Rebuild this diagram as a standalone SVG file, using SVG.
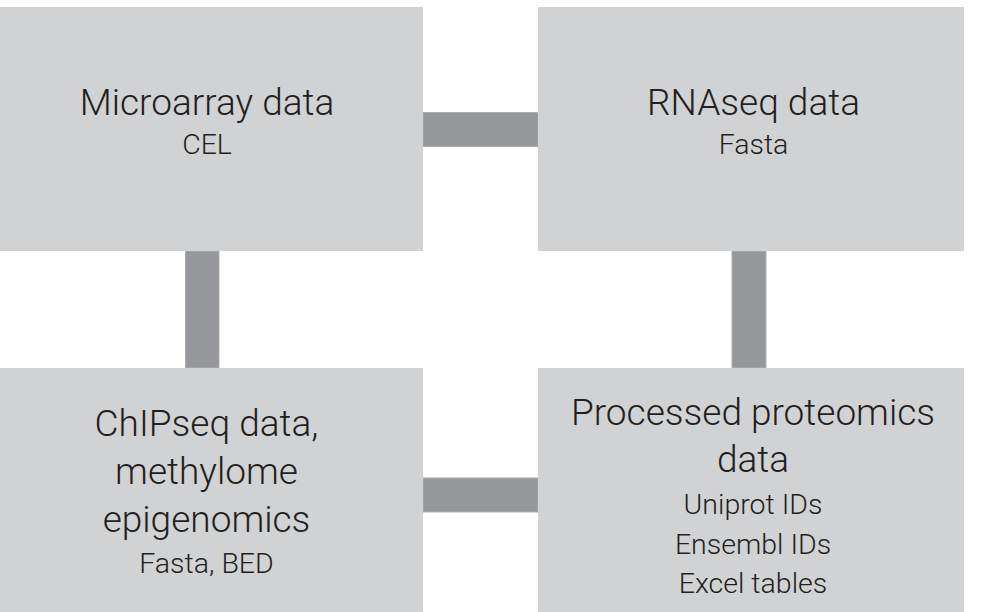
<svg xmlns="http://www.w3.org/2000/svg" width="981" height="612" viewBox="0 0 981 612">
<style>
.box{fill:#d1d2d4}
.bar{fill:#96979a;stroke:#adaeb0;stroke-width:1}
.t{font-family:Roboto,"Liberation Sans",sans-serif;font-weight:300;fill:#231f20;text-anchor:middle}
.big{font-size:37px}
.small{font-size:28.5px}
</style>
<rect width="981" height="612" fill="#ffffff"/>
<g id="connectors">
<rect class="bar" x="423" y="112.5" width="115" height="34"/>
<rect class="bar" x="185.5" y="251" width="33.5" height="117"/>
<rect class="bar" x="732" y="251" width="34" height="117"/>
<rect class="bar" x="423" y="478" width="115" height="34"/>
</g>
<g id="microarray">
<rect class="box" x="0" y="7" width="423" height="244"/>
<text class="t big" x="207" y="115">Microarray data</text>
<text class="t small" x="207" y="154">CEL</text>
</g>
<g id="rnaseq">
<rect class="box" x="538" y="7" width="426" height="244"/>
<text class="t big" x="753.5" y="115">RNAseq data</text>
<text class="t small" x="753.5" y="154">Fasta</text>
</g>
<g id="chipseq">
<rect class="box" x="0" y="368" width="423" height="244"/>
<text class="t big" x="206.5" y="435.5">ChIPseq data,</text>
<text class="t big" x="206.5" y="483.5">methylome</text>
<text class="t big" x="206.5" y="531.5">epigenomics</text>
<text class="t small" x="206.5" y="572.5">Fasta, BED</text>
</g>
<g id="proteomics">
<rect class="box" x="538" y="368" width="426" height="244"/>
<text class="t big" x="753" y="425">Processed proteomics</text>
<text class="t big" x="753" y="471.5">data</text>
<text class="t small" x="753" y="514">Uniprot IDs</text>
<text class="t small" x="753" y="553.5">Ensembl IDs</text>
<text class="t small" x="753" y="593">Excel tables</text>
</g>
</svg>
